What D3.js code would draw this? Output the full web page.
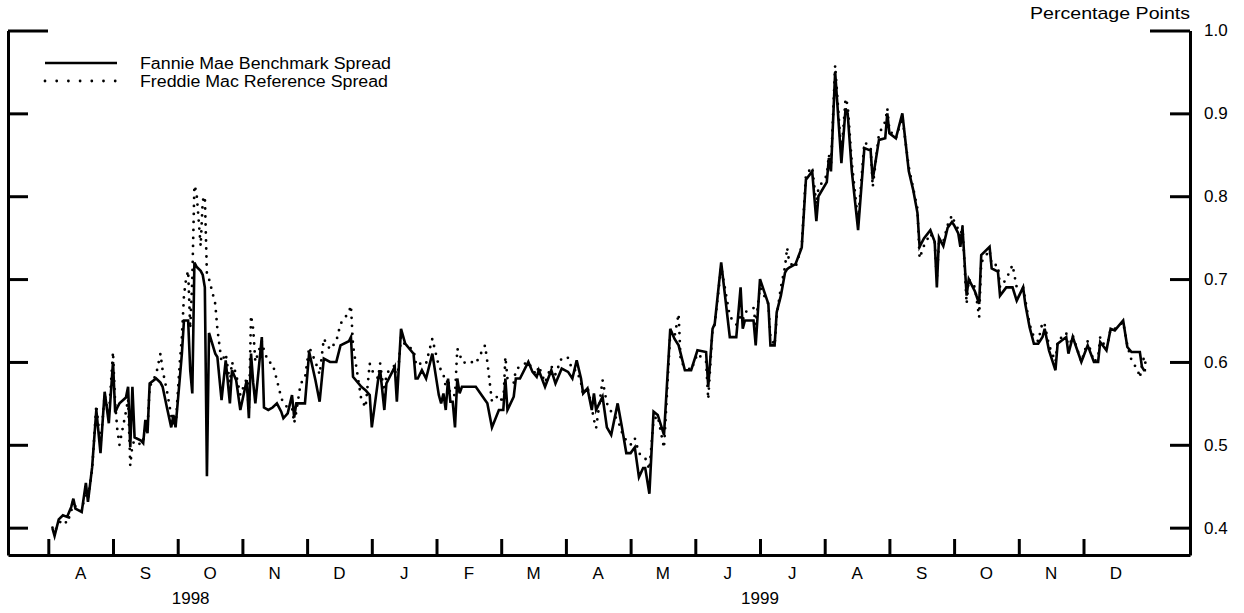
<!DOCTYPE html>
<html>
<head>
<meta charset="utf-8">
<script src="https://cdn.jsdelivr.net/npm/d3@7"></script>
<style>
  body { margin: 0; background: #fff; }
  svg text { font-family: "Liberation Sans", Arial, sans-serif; fill: #000; }
</style>
</head>
<body>
<div id="chart"></div>
<script>
// daily spreads, percentage points
var dates = [
  "1998-08-03","1998-08-04","1998-08-06","1998-08-08","1998-08-10","1998-08-12","1998-08-13","1998-08-14","1998-08-17","1998-08-19","1998-08-20","1998-08-22","1998-08-24","1998-08-26","1998-08-28","1998-08-30",
  "1998-09-01","1998-09-02","1998-09-03","1998-09-04","1998-09-07","1998-09-08","1998-09-09","1998-09-10","1998-09-11","1998-09-14","1998-09-15","1998-09-16","1998-09-17","1998-09-18","1998-09-21","1998-09-23","1998-09-24","1998-09-26","1998-09-28","1998-09-29","1998-09-30",
  "1998-10-02","1998-10-03","1998-10-04","1998-10-05","1998-10-06","1998-10-07","1998-10-08","1998-10-09","1998-10-10","1998-10-12","1998-10-13","1998-10-14","1998-10-15","1998-10-16","1998-10-19","1998-10-20","1998-10-22","1998-10-24","1998-10-26","1998-10-27","1998-10-29","1998-10-31",
  "1998-11-03","1998-11-04","1998-11-05","1998-11-06","1998-11-07","1998-11-10","1998-11-11","1998-11-13","1998-11-15","1998-11-17","1998-11-19","1998-11-20","1998-11-22","1998-11-24","1998-11-25","1998-11-26","1998-11-28","1998-11-30",
  "1998-12-02","1998-12-05","1998-12-07","1998-12-09","1998-12-12","1998-12-15","1998-12-17","1998-12-21","1998-12-22","1998-12-23","1998-12-27","1998-12-28","1998-12-29","1998-12-31",
  "1999-01-01","1999-01-04","1999-01-05","1999-01-07","1999-01-08","1999-01-12","1999-01-13","1999-01-15","1999-01-17","1999-01-21","1999-01-22","1999-01-23","1999-01-25","1999-01-27","1999-01-30",
  "1999-02-02","1999-02-03","1999-02-04","1999-02-05","1999-02-06","1999-02-07","1999-02-08","1999-02-09","1999-02-10","1999-02-11","1999-02-12","1999-02-15","1999-02-16","1999-02-18","1999-02-22","1999-02-23","1999-02-25","1999-02-28",
  "1999-03-02","1999-03-03","1999-03-04","1999-03-07","1999-03-08","1999-03-10","1999-03-14","1999-03-16","1999-03-18","1999-03-19","1999-03-22","1999-03-25","1999-03-27","1999-03-30",
  "1999-04-02","1999-04-04","1999-04-06","1999-04-08","1999-04-09","1999-04-11","1999-04-13","1999-04-14","1999-04-15","1999-04-18","1999-04-20","1999-04-22","1999-04-25","1999-04-27","1999-04-29",
  "1999-05-01","1999-05-03","1999-05-05","1999-05-07","1999-05-08","1999-05-10","1999-05-12","1999-05-14","1999-05-17","1999-05-20","1999-05-22","1999-05-24","1999-05-25","1999-05-27","1999-05-30",
  "1999-06-02","1999-06-06","1999-06-07","1999-06-09","1999-06-10","1999-06-13","1999-06-17","1999-06-20","1999-06-22","1999-06-23","1999-06-24","1999-06-28","1999-06-29",
  "1999-07-01","1999-07-05","1999-07-06","1999-07-08","1999-07-09","1999-07-11","1999-07-13","1999-07-14","1999-07-15","1999-07-18","1999-07-21","1999-07-23","1999-07-26","1999-07-28","1999-07-29",
  "1999-08-02","1999-08-03","1999-08-04","1999-08-06","1999-08-09","1999-08-11","1999-08-12","1999-08-14","1999-08-17","1999-08-20","1999-08-23","1999-08-24","1999-08-27","1999-08-30","1999-08-31",
  "1999-09-01","1999-09-04","1999-09-07","1999-09-10","1999-09-12","1999-09-14","1999-09-15","1999-09-17","1999-09-20","1999-09-22","1999-09-23","1999-09-24","1999-09-26","1999-09-28","1999-09-30",
  "1999-10-01","1999-10-03","1999-10-04","1999-10-05","1999-10-07","1999-10-08","1999-10-11","1999-10-13","1999-10-14","1999-10-18","1999-10-19","1999-10-22","1999-10-23","1999-10-26","1999-10-29","1999-10-31",
  "1999-11-03","1999-11-04","1999-11-06","1999-11-08","1999-11-10","1999-11-12","1999-11-13","1999-11-15","1999-11-18","1999-11-19","1999-11-23","1999-11-24","1999-11-26","1999-11-30",
  "1999-12-03","1999-12-06","1999-12-08","1999-12-09","1999-12-12","1999-12-14","1999-12-16","1999-12-20","1999-12-22","1999-12-24","1999-12-27","1999-12-28","1999-12-29","1999-12-30","1999-12-31"
];

var fannie = [
  0.399,0.390,0.410,0.415,0.413,0.425,0.435,0.423,0.419,0.454,0.431,0.473,0.542,0.490,0.564,0.526,
  0.600,0.539,0.545,0.550,0.557,0.570,0.497,0.570,0.509,0.505,0.502,0.530,0.514,0.574,0.580,0.575,0.570,0.545,0.521,0.536,0.521,
  0.580,0.610,0.650,0.650,0.650,0.590,0.562,0.720,0.715,0.710,0.705,0.690,0.462,0.635,0.610,0.606,0.554,0.602,0.550,0.590,0.578,0.542,
  0.578,0.532,0.610,0.575,0.550,0.630,0.545,0.542,0.545,0.550,0.540,0.532,0.538,0.560,0.533,0.550,0.550,0.550,
  0.612,0.578,0.552,0.604,0.600,0.600,0.620,0.625,0.630,0.582,0.570,0.568,0.566,0.560,
  0.521,0.578,0.590,0.542,0.574,0.594,0.552,0.640,0.622,0.610,0.580,0.580,0.590,0.580,0.610,
  0.560,0.550,0.562,0.542,0.580,0.552,0.552,0.521,0.580,0.562,0.570,0.570,0.570,0.570,0.554,0.550,0.521,0.542,
  0.542,0.580,0.542,0.558,0.580,0.580,0.600,0.588,0.582,0.590,0.570,0.590,0.574,0.592,
  0.588,0.580,0.602,0.580,0.562,0.568,0.542,0.562,0.542,0.558,0.521,0.512,0.550,0.521,0.490,
  0.490,0.497,0.461,0.472,0.472,0.441,0.540,0.536,0.512,0.640,0.628,0.620,0.610,0.590,0.590,
  0.614,0.612,0.570,0.640,0.646,0.720,0.630,0.630,0.690,0.640,0.650,0.650,0.620,
  0.700,0.670,0.620,0.620,0.660,0.680,0.708,0.712,0.714,0.718,0.738,0.820,0.830,0.770,0.800,
  0.817,0.846,0.830,0.950,0.840,0.906,0.900,0.830,0.759,0.858,0.855,0.820,0.868,0.870,0.900,
  0.876,0.870,0.900,0.830,0.808,0.780,0.739,0.749,0.759,0.745,0.690,0.750,0.740,0.762,0.769,
  0.765,0.755,0.739,0.763,0.680,0.700,0.685,0.670,0.729,0.739,0.713,0.709,0.680,0.690,0.690,0.674,
  0.690,0.670,0.642,0.622,0.622,0.630,0.640,0.614,0.590,0.622,0.630,0.610,0.630,0.600,
  0.620,0.600,0.600,0.624,0.614,0.640,0.638,0.650,0.618,0.612,0.612,0.612,0.594,0.590,0.590
];

var freddie = [
  0.400,0.395,0.405,0.410,0.405,0.420,0.433,0.425,0.420,0.445,0.435,0.470,0.548,0.500,0.560,0.535,
  0.612,0.550,0.518,0.500,0.540,0.555,0.475,0.500,0.505,0.500,0.505,0.525,0.520,0.570,0.585,0.610,0.590,0.565,0.535,0.530,0.520,
  0.600,0.630,0.680,0.700,0.710,0.640,0.700,0.813,0.805,0.740,0.795,0.800,0.705,0.700,0.670,0.640,0.600,0.610,0.575,0.600,0.585,0.560,
  0.580,0.540,0.656,0.640,0.600,0.625,0.614,0.600,0.598,0.578,0.557,0.550,0.545,0.545,0.526,0.540,0.574,0.580,
  0.618,0.600,0.585,0.628,0.615,0.625,0.646,0.660,0.668,0.620,0.554,0.550,0.545,0.598,
  0.590,0.580,0.598,0.560,0.586,0.596,0.570,0.630,0.620,0.615,0.600,0.595,0.600,0.598,0.628,
  0.595,0.590,0.585,0.570,0.580,0.560,0.560,0.560,0.616,0.610,0.600,0.598,0.600,0.598,0.620,0.600,0.552,0.560,
  0.550,0.606,0.580,0.575,0.590,0.595,0.600,0.590,0.585,0.595,0.575,0.595,0.585,0.605,
  0.605,0.590,0.590,0.575,0.560,0.570,0.545,0.530,0.520,0.578,0.550,0.540,0.530,0.515,0.505,
  0.500,0.508,0.490,0.485,0.484,0.470,0.530,0.535,0.496,0.635,0.630,0.658,0.600,0.595,0.590,
  0.610,0.600,0.555,0.640,0.645,0.715,0.655,0.645,0.655,0.650,0.660,0.665,0.645,
  0.690,0.670,0.630,0.620,0.655,0.690,0.715,0.738,0.720,0.714,0.740,0.826,0.835,0.790,0.810,
  0.825,0.850,0.835,0.958,0.850,0.918,0.910,0.840,0.770,0.865,0.860,0.811,0.875,0.890,0.906,
  0.880,0.870,0.895,0.835,0.810,0.785,0.725,0.740,0.755,0.745,0.700,0.745,0.745,0.765,0.777,
  0.770,0.760,0.750,0.765,0.670,0.700,0.690,0.654,0.720,0.735,0.717,0.717,0.690,0.700,0.717,0.690,
  0.690,0.675,0.645,0.630,0.625,0.648,0.645,0.620,0.600,0.625,0.635,0.615,0.632,0.600,
  0.625,0.600,0.605,0.630,0.615,0.640,0.640,0.648,0.620,0.602,0.590,0.581,0.595,0.606,0.595
];

var monthLabels = ["A","S","O","N","D","J","F","M","A","M","J","J","A","S","O","N","D"];
var yearLabels = ["1998", "1999"];
var yearCenters = [2.2, 11];          // in months from Aug 1998
var yTicks = [0.4, 0.5, 0.6, 0.7, 0.8, 0.9, 1.0];
var seriesNames = ["Fannie Mae Benchmark Spread", "Freddie Mac Reference Spread"];

var width = 1244, height = 613;
var plotLeft = 8, plotRight = 1190, plotTop = 30.5, plotBottom = 555;

var parse = d3.timeParse("%Y-%m-%d");
// months are drawn with equal widths, so position = month index + fraction of month
function monthPos(d) {
  var days = new Date(d.getFullYear(), d.getMonth() + 1, 0).getDate();
  return (d.getFullYear() - 1998) * 12 + d.getMonth() - 7 + (d.getDate() - 1) / days;
}

var data = dates.map(function(s, i) {
  return { m: monthPos(parse(s)), a: fannie[i], b: freddie[i] };
});

var x = d3.scaleLinear().domain([-0.623, 17.646]).range([plotLeft, plotRight]);
var y = d3.scaleLinear().domain([0.367, 1.0]).range([plotBottom, plotTop]);

var svg = d3.select("#chart").append("svg")
  .attr("width", width)
  .attr("height", height);

// axes
var xAxis = d3.axisBottom(x)
  .tickValues(d3.range(0, 17))
  .tickSizeInner(-16)
  .tickSizeOuter(0)
  .tickFormat("");
var gx = svg.append("g")
  .attr("transform", "translate(0," + plotBottom + ")")
  .call(xAxis);

var gl = svg.append("g")
  .attr("transform", "translate(" + plotLeft + ",0)")
  .call(d3.axisLeft(y).tickValues(yTicks).tickSizeInner(-20).tickSizeOuter(0).tickFormat(""));

var gr = svg.append("g")
  .attr("transform", "translate(" + plotRight + ",0)")
  .call(d3.axisRight(y).tickValues(yTicks).tickSizeInner(-20).tickSizeOuter(0)
    .tickPadding(14).tickFormat(d3.format(".1f")));

[gx, gl, gr].forEach(function(g) {
  g.select(".domain").attr("stroke", "#000").attr("stroke-width", 3);
  g.selectAll(".tick line").attr("stroke", "#000").attr("stroke-width", 3);
});
// top ticks are longer
gl.selectAll(".tick").filter(function(d) { return d === 1.0; }).select("line").attr("x2", 40);
gr.selectAll(".tick").filter(function(d) { return d === 1.0; }).select("line").attr("x2", -40);
gr.selectAll(".tick text")
  .style("font-family", "Liberation Sans, Arial, sans-serif")
  .style("font-size", "17px")
  .attr("fill", "#000");

// month and year labels
svg.append("g").selectAll("text")
  .data(monthLabels)
  .enter()
  .append("text")
  .attr("x", function(d, i) { return x(i + 0.5); })
  .attr("y", plotBottom + 24)
  .attr("text-anchor", "middle")
  .style("font-size", "17px")
  .text(function(d) { return d; });

svg.append("g").selectAll("text")
  .data(yearLabels)
  .enter()
  .append("text")
  .attr("x", function(d, i) { return x(yearCenters[i]); })
  .attr("y", plotBottom + 49)
  .attr("text-anchor", "middle")
  .style("font-size", "17px")
  .text(function(d) { return d; });

svg.append("text")
  .attr("x", plotRight)
  .attr("y", 19)
  .attr("text-anchor", "end")
  .style("font-size", "17px")
  .attr("textLength", 160)
  .attr("lengthAdjust", "spacingAndGlyphs")
  .text("Percentage Points");

// lines
var lineA = d3.line()
  .x(function(d) { return x(d.m); })
  .y(function(d) { return y(d.a); });
var lineB = d3.line()
  .x(function(d) { return x(d.m); })
  .y(function(d) { return y(d.b); });

svg.append("path")
  .attr("d", lineB(data))
  .attr("fill", "none")
  .attr("stroke", "#000")
  .attr("stroke-width", 2.8)
  .attr("stroke-linecap", "round")
  .attr("stroke-dasharray", "0,8");

svg.append("path")
  .attr("d", lineA(data))
  .attr("fill", "none")
  .attr("stroke", "#000")
  .attr("stroke-width", 2.6)
  .attr("stroke-linejoin", "miter");

// legend
var legend = svg.append("g");
legend.selectAll("line")
  .data(seriesNames)
  .enter()
  .append("line")
  .attr("x1", 45).attr("x2", 117)
  .attr("y1", function(d, i) { return 63 + i * 18; })
  .attr("y2", function(d, i) { return 63 + i * 18; })
  .attr("stroke", "#000")
  .attr("stroke-width", function(d, i) { return i ? 2.8 : 2.6; })
  .attr("stroke-linecap", function(d, i) { return i ? "round" : "butt"; })
  .attr("stroke-dasharray", function(d, i) { return i ? "0,11.7" : null; });
legend.selectAll("text")
  .data(seriesNames)
  .enter()
  .append("text")
  .attr("x", 140)
  .attr("y", function(d, i) { return 63 + i * 18; })
  .attr("dy", "0.35em")
  .attr("textLength", function(d, i) { return i ? 248 : 251; })
  .attr("lengthAdjust", "spacingAndGlyphs")
  .style("font-size", "16px")
  .text(function(d) { return d; });
</script>
</body>
</html>
